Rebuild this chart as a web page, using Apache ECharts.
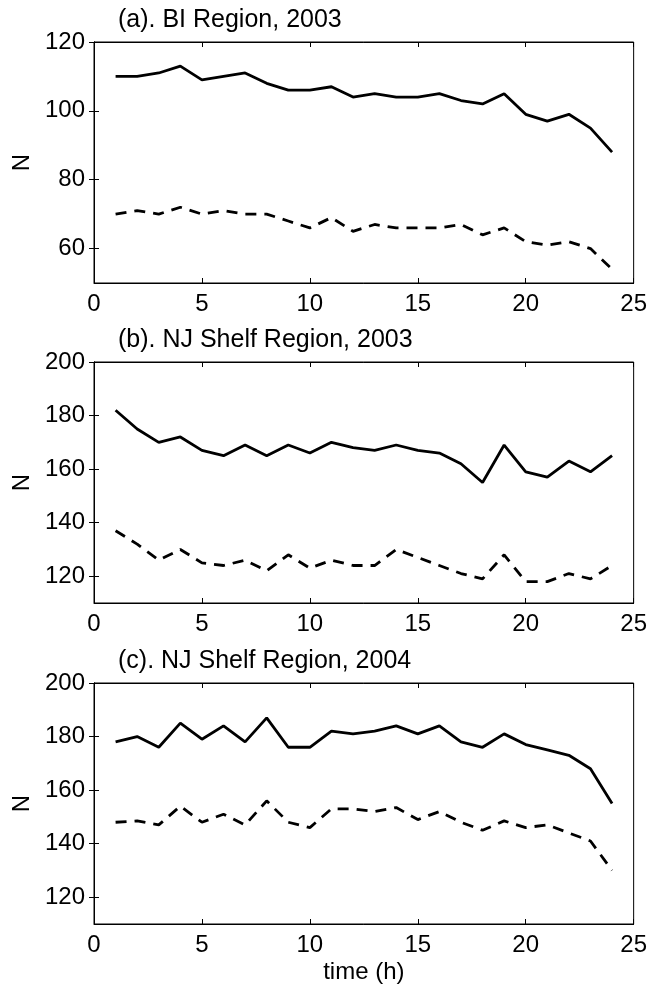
<!DOCTYPE html>
<html>
<head>
<meta charset="utf-8">
<script src="https://cdn.jsdelivr.net/npm/echarts@6/dist/echarts.min.js"></script>
<style>
html,body{margin:0;padding:0;background:#fff;}
#chart{width:650px;height:988px;}
</style>
</head>
<body>
<div id="chart"></div>
<script>
// time (h)
const hours = [1,2,3,4,5,6,7,8,9,10,11,12,13,14,15,16,17,18,19,20,21,22,23,24];

// (a) BI Region, 2003
const biSolid2003  = [110,110,111,113,109,110,111,108,106,106,107,104,105,104,104,105,103,102,105,99,97,99,95,88];
const biDashed2003 = [70,71,70,72,70,71,70,70,68,66,69,65,67,66,66,66,67,64,66,62,61,62,60,54];

// (b) NJ Shelf Region, 2003
const njSolid2003  = [182,175,170,172,167,165,169,165,169,166,170,168,167,169,167,166,162,155,169,159,157,163,159,165];
const njDashed2003 = [137,132,126,130,125,124,126,122,128,123,126,124,124,130,127,124,121,119,128,118,118,121,119,124];

// (c) NJ Shelf Region, 2004
const njSolid2004  = [178,180,176,185,179,184,178,187,176,176,182,181,182,184,181,184,178,176,181,177,175,173,168,155];
const njDashed2004 = [148,148.5,147,154,148,151,147,156,148,146,153,153,152,153.5,149,152,148,145,148.5,146,147,144,141,130];

const titles = ['(a). BI Region, 2003', '(b). NJ Shelf Region, 2003', '(c). NJ Shelf Region, 2004'];
const yMins = [50, 110, 110];
const yMaxs = [120, 200, 200];
const yTicks = [[60,80,100,120],[120,140,160,180,200],[120,140,160,180,200]];

const solidSets = [biSolid2003, njSolid2003, njSolid2004];
const dashedSets = [biDashed2003, njDashed2003, njDashed2004];

const FONT = 'Liberation Sans, Arial, Helvetica, sans-serif';
const FS = 24;
const gridTops = [42, 362, 683];
const gridH = 241;
const titleTops = [3, 323, 644];

const grids = [], xAxes = [], yAxes = [], series = [], titleArr = [];
for (let i = 0; i < 3; i++) {
  grids.push({left: 94, width: 540, top: gridTops[i], height: gridH, show: true,
    borderColor: '#000', borderWidth: 1, backgroundColor: 'transparent'});
  titleArr.push({text: titles[i], left: 113, top: titleTops[i],
    textStyle: {fontFamily: FONT, fontSize: 25, fontWeight: 'normal', color: '#000'}});
  const xBase = {type: 'value', gridIndex: i, min: 0, max: 25, interval: 5,
    splitLine: {show: false},
    axisLine: {show: true, lineStyle: {color: '#000', width: 1}},
    axisTick: {show: true, inside: true, length: 5, lineStyle: {color: '#000'}}};
  xAxes.push(Object.assign({}, xBase, {position: 'bottom',
    axisLabel: {show: true, color: '#000', fontFamily: FONT, fontSize: FS, margin: 9},
    name: i === 2 ? 'time (h)' : '', nameLocation: 'middle', nameGap: 36,
    nameTextStyle: {color: '#000', fontFamily: FONT, fontSize: FS}}));
  xAxes.push(Object.assign({}, xBase, {position: 'top', axisLabel: {show: false}}));
  const yBase = {type: 'value', gridIndex: i, min: yMins[i], max: yMaxs[i],
    splitLine: {show: false},
    axisLine: {show: true, lineStyle: {color: '#000', width: 1}},
    axisTick: {show: true, inside: true, length: 5, customValues: yTicks[i], lineStyle: {color: '#000'}}};
  yAxes.push(Object.assign({}, yBase, {position: 'left',
    axisLabel: {show: true, color: '#000', fontFamily: FONT, fontSize: FS, margin: 9, customValues: yTicks[i]},
    name: 'N', nameLocation: 'middle', nameGap: 60,
    nameTextStyle: {color: '#000', fontFamily: FONT, fontSize: FS}}));
  yAxes.push(Object.assign({}, yBase, {position: 'right', axisLabel: {show: false, customValues: yTicks[i]}}));

  series.push({type: 'line', xAxisIndex: 2*i, yAxisIndex: 2*i, symbol: 'none',
    data: hours.map((h, k) => [h, solidSets[i][k]]),
    lineStyle: {color: '#000', width: 2.8, type: 'solid'}});
  series.push({type: 'line', xAxisIndex: 2*i, yAxisIndex: 2*i, symbol: 'none',
    data: hours.map((h, k) => [h, dashedSets[i][k]]),
    lineStyle: {color: '#000', width: 2.8, type: [11, 8]}});
}

const chart = echarts.init(document.getElementById('chart'), null, {renderer: 'canvas'});
chart.setOption({
  animation: false,
  backgroundColor: '#fff',
  title: titleArr,
  grid: grids,
  xAxis: xAxes,
  yAxis: yAxes,
  series: series
});
</script>
</body>
</html>
